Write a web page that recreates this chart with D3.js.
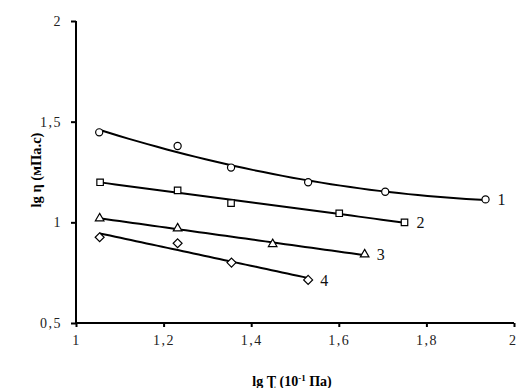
<!DOCTYPE html>
<html>
<head>
<meta charset="utf-8">
<script src="https://cdn.jsdelivr.net/npm/d3@7"></script>
<style>
  body { margin: 0; background: #fff; }
  svg text { font-family: "Liberation Serif", "Times New Roman", serif; }
</style>
</head>
<body>
<div class="svg"></div>
<script>
// data (lg tau, lg eta)
const seriesNames = ['1', '2', '3', '4'];
const shapes = ['circle', 'square', 'triangle', 'diamond'];
const fitOrder = [2, 1, 1, 1];
const xs1 = [1.053, 1.232, 1.354, 1.530, 1.706, 1.935];
const ys1 = [1.447, 1.379, 1.272, 1.199, 1.152, 1.114];
const xs2 = [1.055, 1.232, 1.354, 1.601, 1.750];
const ys2 = [1.199, 1.159, 1.095, 1.045, 1.000];
const xs3 = [1.054, 1.232, 1.449, 1.659];
const ys3 = [1.020, 0.970, 0.892, 0.841];
const xs4 = [1.054, 1.232, 1.355, 1.530];
const ys4 = [0.926, 0.896, 0.800, 0.714];
const xTicks = [1, 1.2, 1.4, 1.6, 1.8, 2];
const yTicks = [0.5, 1, 1.5, 2];

const width = 517, height = 388;
const margin = { top: 21, right: 3, bottom: 65, left: 76 };

const series = [
  { name: seriesNames[0], shape: shapes[0], order: fitOrder[0], x: xs1, y: ys1 },
  { name: seriesNames[1], shape: shapes[1], order: fitOrder[1], x: xs2, y: ys2 },
  { name: seriesNames[2], shape: shapes[2], order: fitOrder[2], x: xs3, y: ys3 },
  { name: seriesNames[3], shape: shapes[3], order: fitOrder[3], x: xs4, y: ys4 }
];

const x = d3.scaleLinear().domain([1, 2]).range([margin.left, width - margin.right]);
const y = d3.scaleLinear().domain([0.5, 2]).range([height - margin.bottom, margin.top]);

const fmt = d => String(d).replace('.', ',');

const svg = d3.select('.svg').append('svg')
  .attr('width', width)
  .attr('height', height);

// axes
const xAxis = svg.append('g')
  .attr('transform', `translate(0,${y(0.5)})`)
  .call(d3.axisBottom(x).tickValues(xTicks).tickSize(4).tickPadding(8).tickFormat(fmt))
  .call(g => g.select('.domain').attr('stroke-width', 2).attr('d', `M${x(1)},0H${x(2)}`));

svg.append('g')
  .attr('transform', `translate(${x(1)},0)`)
  .call(d3.axisLeft(y).tickValues(yTicks).tickSize(5).tickPadding(9).tickFormat(fmt))
  .call(g => g.select('.domain').attr('stroke-width', 2).attr('d', `M0,${y(0.5)}V${y(2)}`));

svg.selectAll('.tick line').attr('stroke-width', 2);
svg.selectAll('.tick text')
  .attr('font-family', '"Liberation Serif", serif')
  .attr('font-size', 14)
  .attr('letter-spacing', 1.5)
  .attr('fill', '#222');

// last x label sits right at the page edge; keep it inside
xAxis.selectAll('.tick:last-of-type text').attr('text-anchor', 'end').attr('dx', 3);

// axis titles
svg.append('text')
  .attr('x', 292)
  .attr('y', 386)
  .attr('text-anchor', 'middle')
  .attr('font-size', 14)
  .attr('font-weight', 'bold')
  .html('lg Ʈ (10<tspan dy="-5" font-size="9">-1</tspan><tspan dy="5"> Па)</tspan>');

svg.append('text')
  .attr('transform', 'translate(41,170) rotate(-90)')
  .attr('text-anchor', 'middle')
  .attr('font-size', 14.5)
  .attr('font-weight', 'bold')
  .text('lg η (мПа.с)');

// least-squares polynomial trend line (order 1 or 2), like a spreadsheet trendline
function polyFit(xv, yv, order) {
  const m = order + 1;
  const A = [];
  for (let i = 0; i < m; i++) {
    A.push([]);
    for (let j = 0; j <= m; j++) {
      let sum = 0;
      for (let k = 0; k < xv.length; k++) {
        sum += j < m ? Math.pow(xv[k], i + j) : Math.pow(xv[k], i) * yv[k];
      }
      A[i].push(sum);
    }
  }
  for (let i = 0; i < m; i++) {
    for (let j = i + 1; j < m; j++) {
      const f = A[j][i] / A[i][i];
      for (let k = i; k <= m; k++) A[j][k] -= f * A[i][k];
    }
  }
  const c = new Array(m).fill(0);
  for (let i = m - 1; i >= 0; i--) {
    let v = A[i][m];
    for (let k = i + 1; k < m; k++) v -= A[i][k] * c[k];
    c[i] = v / A[i][i];
  }
  return v => c.reduce((acc, ci, i) => acc + ci * Math.pow(v, i), 0);
}

const line = d3.line().x(d => x(d[0])).y(d => y(d[1]));

series.forEach(s => {
  const f = polyFit(s.x, s.y, s.order);
  const x0 = s.x[0], x1 = s.x[s.x.length - 1];
  const pts = d3.range(0, 41).map(i => { const v = x0 + (x1 - x0) * i / 40; return [v, f(v)]; });
  svg.append('path')
    .attr('d', line(pts))
    .attr('fill', 'none')
    .attr('stroke', '#000')
    .attr('stroke-width', 2);
});

// square diamond (rotated square) instead of d3's tall diamond
const symbolDiamondSquare = {
  draw(context, size) {
    const r = Math.sqrt(size / 2);
    context.moveTo(0, -r);
    context.lineTo(r, 0);
    context.lineTo(0, r);
    context.lineTo(-r, 0);
    context.closePath();
  }
};

const symbolType = {
  circle: d3.symbolCircle,
  square: d3.symbolSquare,
  triangle: d3.symbolTriangle,
  diamond: symbolDiamondSquare
};
const symbolSize = { circle: 40, square: 42, triangle: 32, diamond: 40 };

series.forEach(s => {
  svg.append('g').selectAll('path')
    .data(s.x.map((v, i) => [v, s.y[i]]))
    .enter()
    .append('path')
    .attr('transform', d => `translate(${x(d[0])},${y(d[1])})`)
    .attr('d', d3.symbol().type(symbolType[s.shape]).size(symbolSize[s.shape]))
    .attr('fill', '#fff')
    .attr('stroke', '#000')
    .attr('stroke-width', 1.2);

  const lx = s.x[s.x.length - 1], ly = s.y[s.y.length - 1];
  svg.append('text')
    .attr('x', x(lx) + 12)
    .attr('y', y(ly) + 6)
    .attr('font-size', 16)
    .attr('fill', '#111')
    .text(s.name);
});
</script>
</body>
</html>
